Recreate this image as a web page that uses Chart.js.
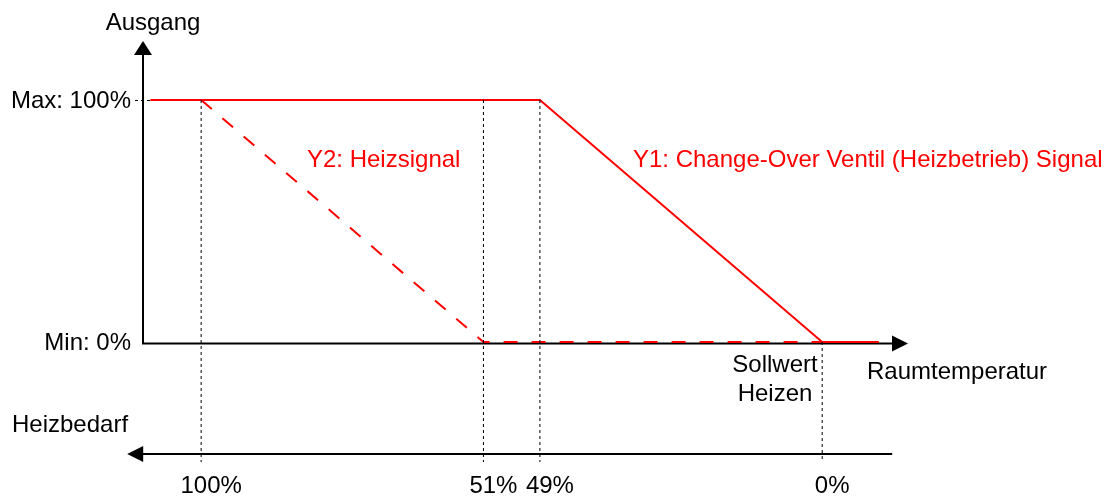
<!DOCTYPE html>
<html>
<head>
<meta charset="utf-8">
<script src="https://cdn.jsdelivr.net/npm/chart.js@4/dist/chart.umd.min.js"></script>
<style>
  html, body { margin: 0; padding: 0; background: #fff; }
  canvas { display: block; }
</style>
</head>
<body>
<canvas id="chart" width="1108" height="497"></canvas>
<script>
// Schematic positions on the temperature axis (one unit = one step of the diagram)
const tickPositions = [0, 5, 6, 11];
const tickLabels = ['100%', '51%', '49%', '0%'];
const dropTops = [100, 100, 100, 0];   // where each dotted guide starts (output %)

// Y1: Change-Over Ventil (Heizbetrieb) Signal, solid
const y1X = [-0.9, 6, 11, 12];
const y1Y = [100, 100, 0, 0];

// Y2: Heizsignal, dashed
const y2X = [0, 5, 12];
const y2Y = [100, 0, 0];

const outputLevels = [100, 0];
const outputLabels = ['Max: 100%', 'Min: 0%'];

const FONT = '24px "Liberation Sans", Arial, sans-serif';
const RED = '#ff0000';
const X_MIN = -1.03, X_MAX = 12.52;

const toPoints = (xs, ys) => xs.map((x, i) => ({ x: x, y: ys[i] }));

const guideSets = tickPositions.map((x, i) => ({
    data: [{ x: x, y: dropTops[i] }, { x: x, y: -49.6 }],
    borderColor: '#000',
    borderWidth: 1,
    borderDash: [3, 3],
    pointRadius: 0,
    showLine: true,
    clip: false
}));

const diagramPlugin = {
    id: 'diagram',
    beforeDatasetsDraw(chart) {
        const ctx = chart.ctx;
        const xs = chart.scales.x;
        const ys = chart.scales.y;
        const y0 = ys.getPixelForValue(0) + 1.5;
        const yAx = xs.getPixelForValue(X_MIN);
        const yBottom = ys.getPixelForValue(-46.3);

        ctx.save();
        ctx.strokeStyle = '#000';
        ctx.fillStyle = '#000';
        ctx.lineWidth = 2;

        // vertical output axis
        ctx.beginPath();
        ctx.moveTo(yAx, y0);
        ctx.lineTo(yAx, 54);
        ctx.stroke();
        ctx.beginPath();
        ctx.moveTo(yAx, 41);
        ctx.lineTo(yAx - 9, 55);
        ctx.lineTo(yAx + 9, 55);
        ctx.closePath();
        ctx.fill();

        // horizontal temperature axis
        const xEnd = xs.getPixelForValue(X_MAX);
        ctx.beginPath();
        ctx.moveTo(yAx - 1, y0);
        ctx.lineTo(xEnd - 15, y0);
        ctx.stroke();
        ctx.beginPath();
        ctx.moveTo(xEnd, y0);
        ctx.lineTo(xEnd - 16, y0 - 8);
        ctx.lineTo(xEnd - 16, y0 + 8);
        ctx.closePath();
        ctx.fill();

        // Heizbedarf axis (points left)
        const bStart = xs.getPixelForValue(-1.31);
        const bEnd = xs.getPixelForValue(12.24);
        ctx.beginPath();
        ctx.moveTo(bEnd, yBottom);
        ctx.lineTo(bStart + 14, yBottom);
        ctx.stroke();
        ctx.beginPath();
        ctx.moveTo(bStart, yBottom);
        ctx.lineTo(bStart + 16, yBottom - 8);
        ctx.lineTo(bStart + 16, yBottom + 8);
        ctx.closePath();
        ctx.fill();

        // dotted leader from Max label
        ctx.lineWidth = 1;
        ctx.setLineDash([3, 3]);
        ctx.beginPath();
        ctx.moveTo(135, ys.getPixelForValue(100) + 0.5);
        ctx.lineTo(150, ys.getPixelForValue(100) + 0.5);
        ctx.stroke();
        ctx.restore();
    },
    afterDatasetsDraw(chart) {
        const ctx = chart.ctx;
        const xs = chart.scales.x;
        const ys = chart.scales.y;
        ctx.save();
        ctx.fillStyle = '#000';
        ctx.font = FONT;
        ctx.textBaseline = 'middle';
        ctx.textAlign = 'right';
        outputLevels.forEach((v, i) => {
            ctx.fillText(outputLabels[i], 131, ys.getPixelForValue(v) + 1);
        });

        ctx.textBaseline = 'alphabetic';
        ctx.textAlign = 'center';
        tickPositions.forEach((x, i) => {
            ctx.fillText(tickLabels[i], xs.getPixelForValue(x) + 10, 493);
        });
        ctx.fillText('Ausgang', 153, 30);
        ctx.fillText('Sollwert', 775, 372);
        ctx.fillText('Heizen', 775, 401);

        ctx.textAlign = 'left';
        ctx.fillText('Raumtemperatur', 867, 379);
        ctx.fillText('Heizbedarf', 12, 432);

        ctx.fillStyle = RED;
        ctx.fillText('Y2: Heizsignal', 307, 167);
        ctx.fillText('Y1: Change-Over Ventil (Heizbetrieb) Signal', 633, 167);
        ctx.restore();
    }
};

new Chart(document.getElementById('chart'), {
    type: 'scatter',
    data: {
        datasets: [
            ...guideSets,
            {
                label: 'Y2: Heizsignal',
                data: toPoints(y2X, y2Y),
                borderColor: RED,
                borderWidth: 2,
                borderDash: [14, 14],
                pointRadius: 0,
                showLine: true,
                clip: false
            },
            {
                label: 'Y1: Change-Over Ventil (Heizbetrieb) Signal',
                data: toPoints(y1X, y1Y),
                borderColor: RED,
                borderWidth: 2,
                pointRadius: 0,
                showLine: true,
                clip: false
            }
        ]
    },
    options: {
        responsive: false,
        animation: false,
        layout: {
            padding: { left: 143, right: 200, top: 39.5, bottom: 34 }
        },
        scales: {
            x: { type: 'linear', min: X_MIN, max: X_MAX, display: false },
            y: { type: 'linear', min: -50, max: 125, display: false }
        },
        plugins: {
            legend: { display: false },
            tooltip: { enabled: false }
        }
    },
    plugins: [diagramPlugin]
});
</script>
</body>
</html>
